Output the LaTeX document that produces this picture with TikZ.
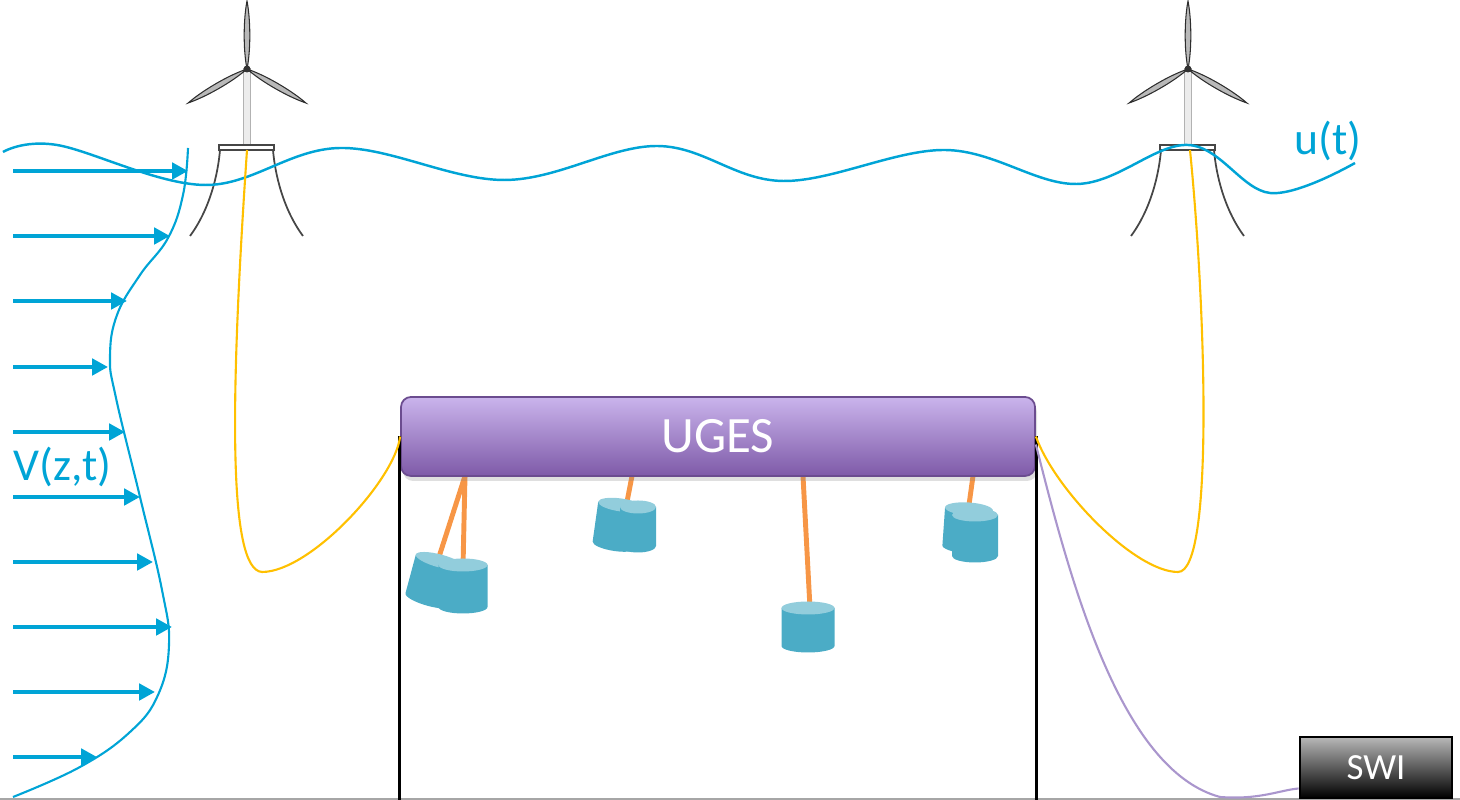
\documentclass[tikz,border=0pt]{standalone}
\usepackage{fontspec}
\setmainfont{Carlito}
\usetikzlibrary{arrows.meta, shadows}

\definecolor{azul}{RGB}{0,164,214}
\definecolor{amarillo}{RGB}{255,192,0}
\definecolor{lila}{RGB}{170,150,205}
\definecolor{naranja}{RGB}{247,150,70}
\definecolor{pesoC}{RGB}{75,172,198}
\definecolor{pesoT}{RGB}{146,205,220}
\definecolor{moradoA}{RGB}{202,180,236}
\definecolor{moradoB}{RGB}{126,90,168}

% peso cilindrico: centro de la tapa (x,y), ancho, alto, giro
\newcommand{\peso}[5]{%
  \begin{scope}[shift={(#1,#2)}, rotate=#5]
    \fill[pesoC] (-#3/2,0) -- (-#3/2,-#4)
      arc[start angle=180, end angle=360, x radius=#3/2, y radius=0.065] -- (#3/2,0) -- cycle;
    \fill[pesoT] (0,0) ellipse [x radius=#3/2, y radius=0.065];
  \end{scope}}

\begin{document}
\begin{tikzpicture}[
    font=\fontsize{13}{15}\selectfont,
    flecha/.style={azul, line width=1.4pt, -{Triangle[length=4.5pt, width=4.6pt]}},
    pala/.style={fill=gray!55, draw=gray!35!black, line width=0.3pt},
    pata/.style={gray!55!black, line width=0.5pt},
    cable/.style={line width=0.6pt},
    soga/.style={naranja, line width=1.4pt}
]
\useasboundingbox (0,0) rectangle (14.6,8);

% ============================================
% AEROGENERADORES
% ============================================
\foreach \tx in {2.47, 11.88} {
  \begin{scope}[shift={(\tx,7.31)}]
    % torre
    \filldraw[fill=gray!15, draw=gray!60] (-0.035,-0.76) rectangle (0.035,0);
    % palas
    \foreach \ang in {0,120,240}
      \draw[pala, rotate=\ang] (0,0) .. controls (0.04,0.2) and (0.035,0.5) .. (0,0.68)
                               .. controls (-0.035,0.5) and (-0.04,0.2) .. (0,0);
    \fill[gray!40!black] (0,0) circle (0.035);
    % plataforma y patas
    \draw[gray!55!black, line width=0.4pt, fill=white] (-0.28,-0.81) rectangle (0.27,-0.76);
    \draw[pata] (-0.27,-0.81) .. controls (-0.29,-1.05) and (-0.37,-1.40) .. (-0.57,-1.67);
    \draw[pata] (0.26,-0.81) .. controls (0.28,-1.05) and (0.36,-1.40) .. (0.56,-1.67);
  \end{scope}
}
\coordinate (plataformaA) at (2.47,6.50);
\coordinate (plataformaB) at (11.90,6.50);

% ============================================
% OLEAJE u(t)
% ============================================
\draw[azul, line width=0.7pt] plot[smooth, tension=0.6] coordinates {
  (0.03,6.48) (0.57,6.55) (2.05,6.15) (3.40,6.52) (5.05,6.20) (6.57,6.54)
  (7.83,6.19) (9.45,6.50) (10.77,6.16) (11.88,6.55) (12.70,6.07) (13.55,6.37)};
\node[azul, anchor=base west] (oleaje) at (12.82,6.45) {u(t)};

% ============================================
% PERFIL DE VELOCIDAD V(z,t)
% ============================================
\draw[azul, line width=0.6pt] plot[smooth, tension=0.7] coordinates {
  (1.88,6.52) (1.83,6.05) (1.68,5.62) (1.40,5.25) (1.17,4.85) (1.10,4.43)
  (1.16,4.02) (1.40,3.03) (1.62,2.10) (1.69,1.55) (1.58,1.05) (1.30,0.68)
  (0.80,0.33) (0.13,0.03)};

\foreach \y/\x in {6.29/1.88, 5.64/1.70, 4.99/1.27, 4.33/1.08, 3.68/1.25,
                   3.03/1.40, 2.38/1.53, 1.73/1.72, 1.08/1.55, 0.43/0.97}
  \draw[flecha] (0.13,\y) -- (\x,\y);

\node[azul, anchor=base west, inner sep=0] (velocidad) at (0.13,3.19) {V(z,t)};

% ============================================
% UGES
% ============================================
\coordinate (fondo) at (0,0);
\draw[gray!70, line width=0.4pt] (0,0.01) -- (14.6,0.01);

% cuerdas
\draw[soga] (4.65,3.24) -- (4.38,2.40);
\draw[soga] (4.65,3.24) -- (4.63,2.33);
\draw[soga] (6.32,3.24) -- (6.26,2.93);
\draw[soga] (8.03,3.24) -- (8.10,1.92);
\draw[soga] (9.73,3.24) -- (9.68,2.88);

\node[rounded corners=0.1cm, minimum width=6.34cm, minimum height=0.79cm,
      top color=moradoA, bottom color=moradoB, draw=moradoB!85!black, line width=0.5pt,
      drop shadow={shadow xshift=0.02cm, shadow yshift=-0.05cm, opacity=0.25},
      text=white, font=\fontsize{14.5}{16}\selectfont] (uges) at (7.18,3.635) {UGES};

% pesos
\peso{4.40}{2.39}{0.50}{0.40}{-15}
\peso{4.63}{2.35}{0.49}{0.42}{0}
\peso{6.21}{2.95}{0.46}{0.40}{-8}
\peso{6.38}{2.93}{0.36}{0.39}{0}
\peso{8.08}{1.92}{0.53}{0.38}{0}
\peso{9.69}{2.91}{0.48}{0.38}{-4}
\peso{9.75}{2.85}{0.46}{0.41}{0}

% postes
\draw[line width=0.9pt] ([xshift=-0.01cm]uges.west) -- ([xshift=-0.01cm]uges.west |- fondo);
\draw[line width=0.9pt] ([xshift=0.01cm]uges.east) -- ([xshift=0.01cm]uges.east |- fondo);

% ============================================
% CABLES
% ============================================
\draw[cable, amarillo] (plataformaA) .. controls (2.30,4.0) and (2.28,2.30) .. (2.62,2.28)
      .. controls (3.10,2.28) and (3.95,3.20) .. (uges.west);
\draw[cable, amarillo] (uges.east) .. controls (10.55,3.10) and (11.35,2.28) .. (11.78,2.28)
      .. controls (12.15,2.28) and (12.05,5.0) .. (plataformaB);

\node[minimum width=1.52cm, minimum height=0.61cm, top color=black!28, bottom color=black,
      draw=black, line width=0.8pt, text=white, font=\fontsize{10.5}{12}\selectfont]
      (swi) at (13.76,0.325) {SWI};

\draw[cable, lila] ([yshift=-0.08cm]uges.east) .. controls (10.70,2.20) and (11.20,0.30) .. (12.20,0.03)
      .. controls (12.60,0.0) and (12.80,0.10) .. ([yshift=-0.21cm]swi.west);

\end{tikzpicture}
\end{document}
